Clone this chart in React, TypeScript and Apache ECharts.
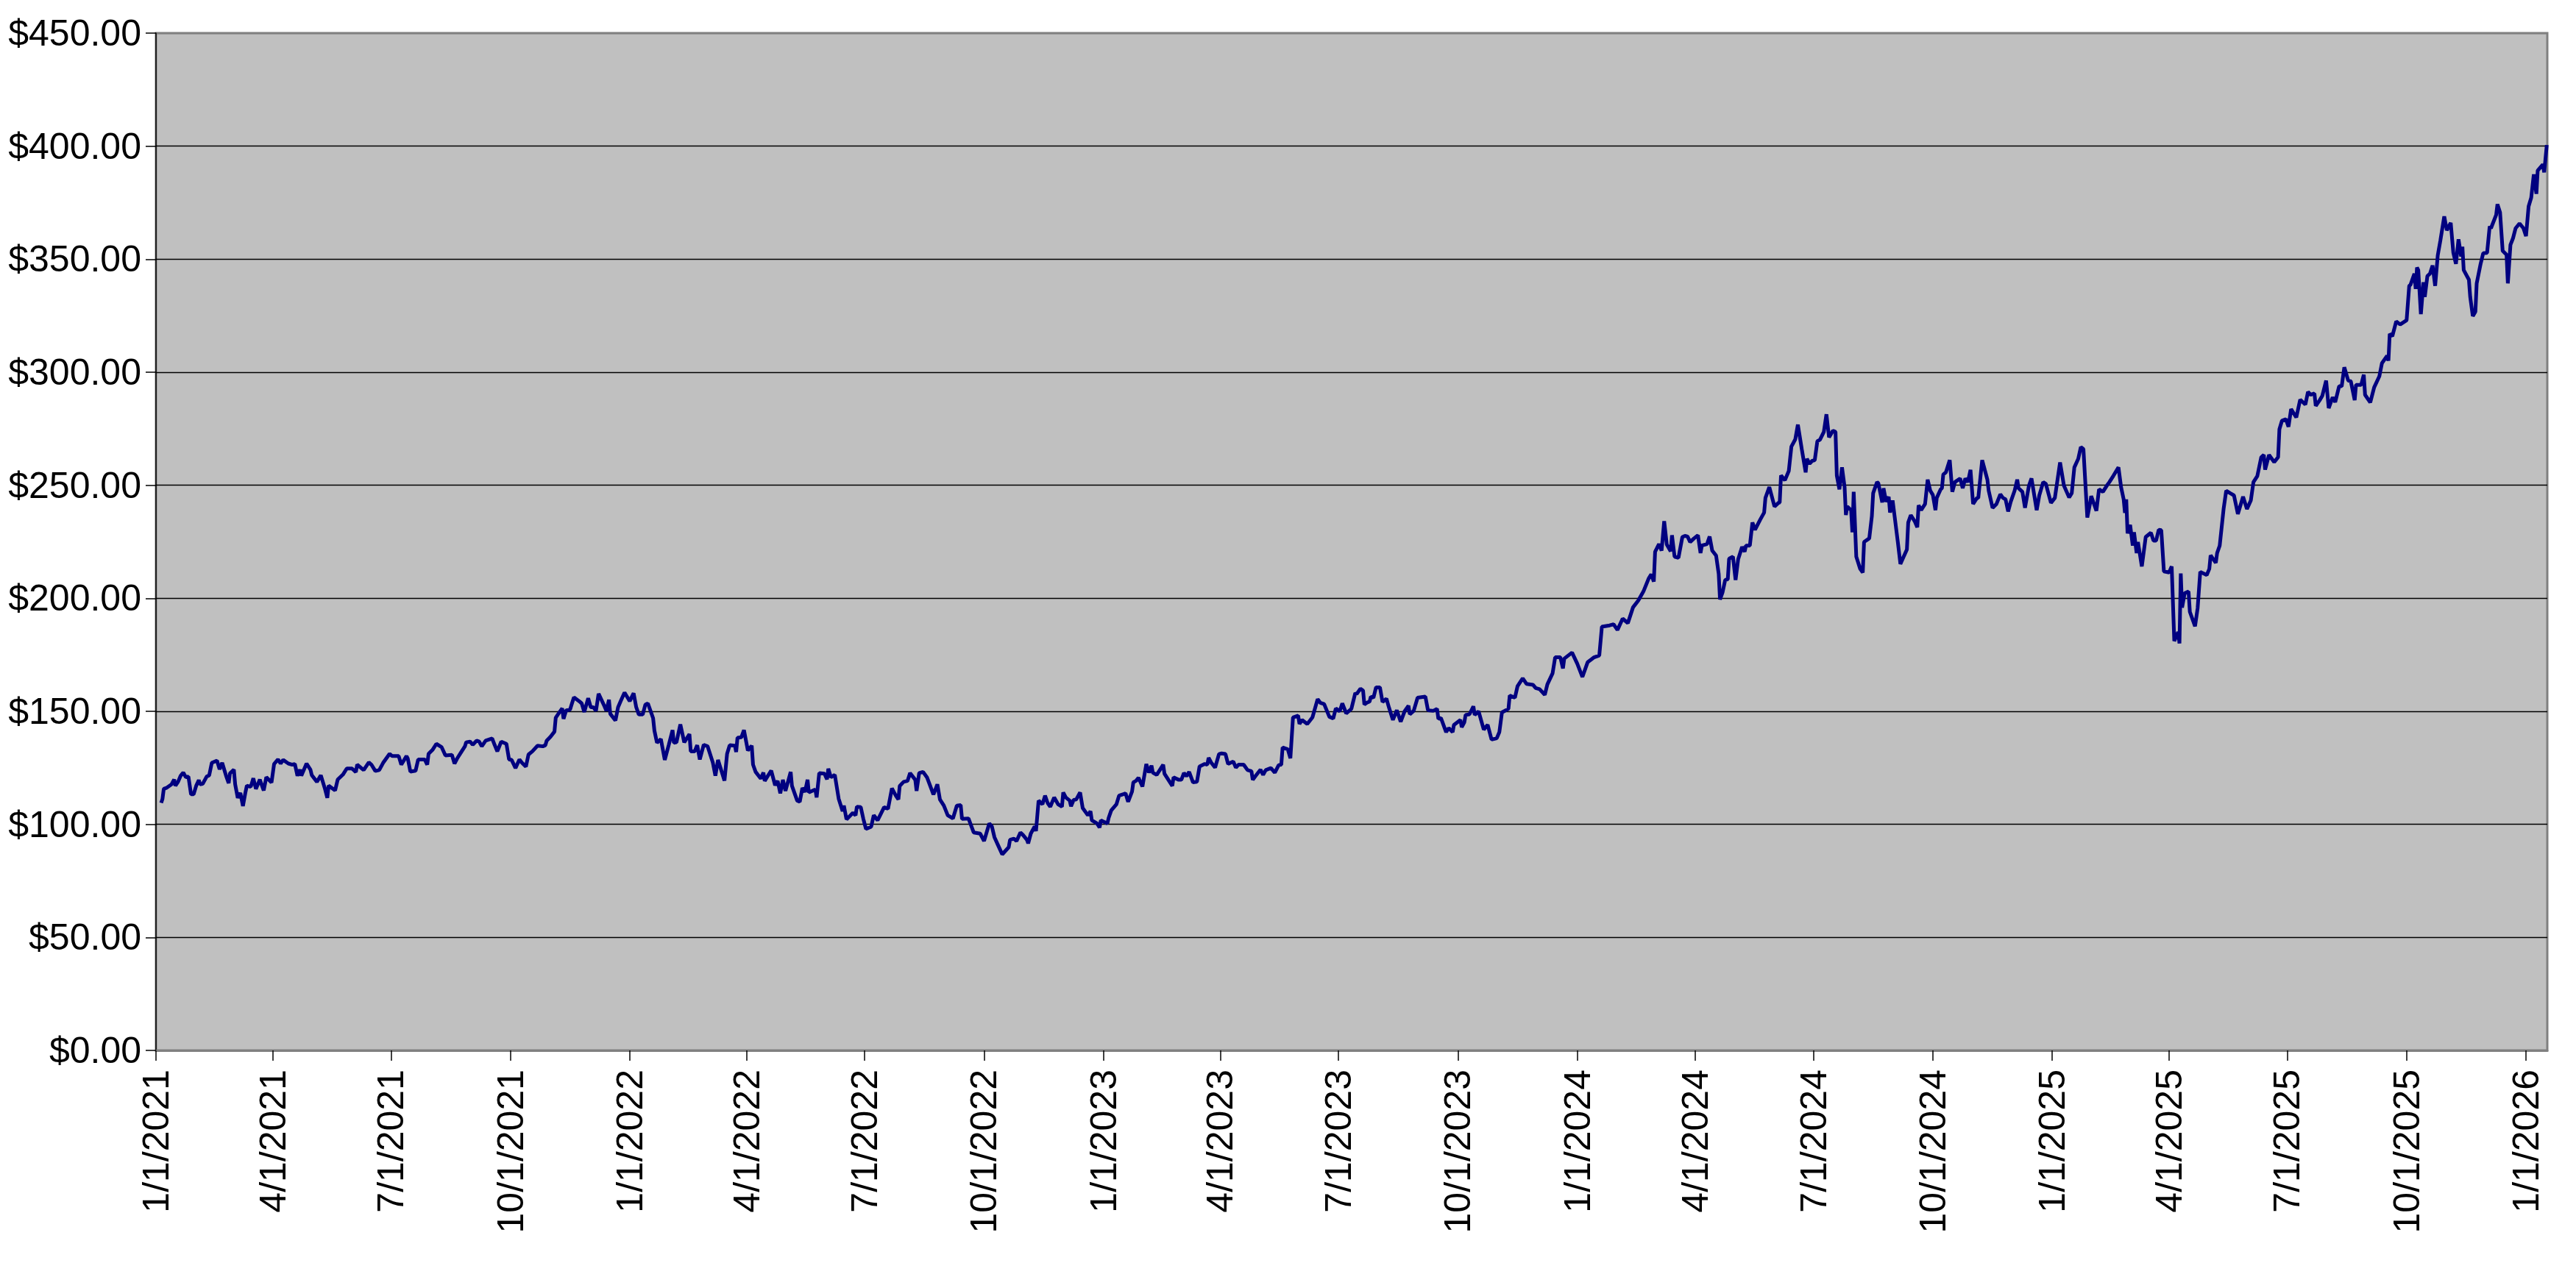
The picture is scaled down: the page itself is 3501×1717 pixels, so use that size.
import React, { useEffect, useRef } from "react";
import * as echarts from "echarts";

// Start of the date axis; every point is stored as [days since START_DATE, closing price]
const START_DATE = "2021-01-01";
const AXIS_END_DAY = 1842.4;

const tickLabels = [
  "1/1/2021", "4/1/2021", "7/1/2021", "10/1/2021",
  "1/1/2022", "4/1/2022", "7/1/2022", "10/1/2022",
  "1/1/2023", "4/1/2023", "7/1/2023", "10/1/2023",
  "1/1/2024", "4/1/2024", "7/1/2024", "10/1/2024",
  "1/1/2025", "4/1/2025", "7/1/2025", "10/1/2025",
  "1/1/2026",
];

const priceTicks = [0, 50, 100, 150, 200, 250, 300, 350, 400, 450];

const y2021: [number, number][] = [
  [4,109.5],[5,111.2],[6,115.7],[8,116.1],[12,117.7],[14,119.8],[15,117.1],[17,118.8],[19,121.5],[21,122.9],
  [23,120.9],[25,121.1],[27,113.3],[29,113.3],[31,117.1],[33,119.6],[34,117.7],[36,117.9],[39,121.1],[41,121.7],
  [43,127.2],[47,128.2],[49,124.4],[51,127.2],[54,121.5],[56,118.2],[57,122.6],[60,124.2],[61,117.7],[63,111.7],
  [65,113.9],[67,108.1],[69,114.4],[70,117.1],[73,116.6],[75,120.4],[77,115.7],[80,119.8],[83,115],[85,120.9],
  [89,118.5],[91,126.7],[94,128.7],[96,126.9],[98,128.5],[102,126.9],[105,126.4],[107,126.7],[109,121.5],[111,124.2],
  [112,121.5],[116,126.9],[119,124.2],[120,121.8],[124,118.8],[127,121.7],[130,116.1],[132,111.7],[133,117.1],[138,115],
  [140,119.8],[144,122],[147,124.7],[151,124.7],[154,123.1],[155,126.4],[160,124],[164,127.4],[166,126.4],[169,123.6],
  [172,124],[175,127.2],[180,131.2],[182,130.2],[187,130.2],[189,126.4],[193,130.2],[194,129.1],[196,123.3],[200,123.7],
  [202,128.7],[207,128.7],[209,126.4],[210,131.2],[213,132.9],[216,135.6],[220,134.2],[223,130.5],[228,130.7],[230,126.9],
  [232,129.1],[235,131.8],[238,134.5],[239,136.3],[242,136.6],[244,135.2],[247,137],[249,136.6],[251,134.5],[254,137],
  [259,138],[261,135],[263,132.3],[266,136.6],[270,135.6],[272,128.7],[274,128.5],[277,124.9],[280,128.7],[282,127.2],
  [285,125.5],[287,130.9],[290,132.3],[294,134.8],[298,134.5],[300,135],[301,137],[304,138.8],[307,141],[308,147.2],
  [311,149.7],[313,151.3],[314,146.7],[316,150.4],[319,150.7],[320,152.6],[322,156.2],[326,154.5],[328,153.5],[330,149.7],
  [333,155.8],[335,151.8],[337,151.8],[339,150.2],[341,157.8],[345,152.9],[347,150.2],[349,155.1],[350,148.9],[354,145.9],
  [356,151.8],[358,154.5],[361,158.3],
];

const y2022: [number, number][] = [
  [365,154.5],[368,158],[370,151.8],[372,148.6],[375,148.6],[377,152.9],[379,153.5],[383,147],[384,141.5],[386,136.1],
  [389,137.7],[392,128.5],[395,135],[398,141.7],[399,136.1],[401,136.3],[404,144.2],[407,136.3],[411,139.9],[412,132.3],
  [415,132.3],[417,135],[419,128.7],[422,135.2],[425,134.5],[429,127.4],[431,121.5],[433,128.5],[438,119.3],[440,131.2],
  [442,135],[446,134.8],[447,132],[448,138.3],[451,138.5],[453,141.7],
  [456,132.7],[459,134.8],[460,126.4],[462,123.2],[466,120.2],[468,122.9],[469,119.2],[474,123.8],[477,117.3],[479,119.2],
  [481,113.7],[483,119.7],[485,114.8],[489,123.2],[490,117],[494,110.5],[496,110],[498,116.1],[500,114.3],[502,119.7],
  [503,114.1],[508,115.4],[509,111.9],[511,122.7],[515,122.4],[517,119.9],[518,124.6],[520,120.8],[523,121.9],[526,111.3],
  [529,105.8],[530,108.3],[532,102.2],[537,105.1],[539,104],[540,107.8],[543,107.6],[545,102.4],[547,98],[551,98.9],
  [553,104],[556,101.8],[561,107.6],[564,106.9],[567,115.9],[570,112.7],[572,111],[573,117],[576,118.8],[579,119.2],
  [581,122.7],[585,119.7],[586,114.8],[588,122.7],[591,123.2],[594,120.8],[599,113.2],[602,117.7],[604,111],[607,108.3],
  [610,104],[614,102.6],[617,108.3],[620,108.5],[621,102.4],[626,102.6],[630,96.4],[635,95.9],[638,92.6],[642,100.4],
  [644,99.1],[646,94.3],[649,90.5],[652,86.7],[657,89.9],[658,93.2],[661,93.7],[663,92.6],[666,96.4],[668,95.3],
  [671,93.2],[672,91.6],[674,95.9],[677,99.1],[678,97],[680,110.5],[683,108.9],[685,112.7],[687,109.4],
  [689,107.8],[692,111.9],[695,108.9],[698,107.8],[699,114.1],[701,111.9],[704,110.5],[705,108],[707,110.8],[709,111],
  [712,114.1],[714,107.2],[718,104],[720,105.8],[721,101.8],[725,100.4],[727,98.6],[728,101.8],
];

const y2023: [number, number][] = [
  [733,100.4],[734,102.9],[736,106.2],[740,108.9],[742,112.7],[747,113.7],[749,110],[752,114.5],[753,118.6],[755,119.2],
  [757,120.6],[760,116.7],[763,126.7],[765,122.9],[767,126],[768,122.9],[771,121.9],[774,124.6],[776,126.4],[777,122.4],
  [783,117],[784,120.8],[788,119.7],[790,119.7],[792,122.7],[794,121.3],[796,123.2],[799,118.6],[802,118.8],[804,125.6],
  [808,126.7],[810,126.4],[811,129.4],[813,127.3],[816,125.1],[819,131.1],[821,131.4],[824,131.1],[826,126.7],[830,127.8],
  [832,125.1],[834,126.4],[838,126.4],[841,124],[844,123.5],[845,119.7],[847,121.3],[851,124.2],[853,121.9],[855,124],
  [859,124.9],[862,122.9],[865,126.2],[867,126.4],[868,134],[872,133.2],[874,129.2],[876,147.3],[880,148.1],[881,144.4],
  [883,146.2],[887,144.4],[891,147.3],[895,155.4],[897,153.8],[900,153.2],[904,147.6],[907,146.8],[909,151.3],[912,150],
  [914,153.5],[917,149.1],
  [921,151.1],[924,158.1],[925,157.6],[928,160],[930,159.2],[931,153],[933,153.8],[935,154.3],[936,156.5],[938,156],
  [940,160.6],[943,160.6],[945,154.1],[948,155.6],[950,151.6],[953,146.2],[956,150.5],[959,145.4],[962,150],[965,152.5],
  [966,148.7],[969,150.2],[972,156],[978,156.5],[980,150.5],[984,150.2],[987,151.1],[988,146.7],[990,147],[994,140.8],
  [996,142.6],[999,140.8],[1000,144],[1005,146.2],[1006,143],[1008,145.1],[1009,148.4],[1012,148.7],[1015,152.2],[1016,148.4],
  [1019,150],[1023,141.9],[1026,144],[1029,137.5],[1033,138.1],[1035,140.8],[1037,149.5],[1042,151.1],[1043,157],[1047,156],
  [1049,161.1],[1053,164.6],[1056,162.1],[1061,161.7],[1063,160.3],[1066,159.8],[1070,157.3],[1072,161.9],[1076,166.8],[1078,173.9],
  [1082,173.9],[1084,169],[1085,173.3],[1091,176],
];

const y2024: [number, number][] = [
  [1095,171.1],[1099,165.2],[1103,171.7],[1106,173],[1108,173.9],[1112,174.7],[1114,187.4],[1120,188],[1123,188.5],[1126,186],
  [1130,191],[1134,189],[1138,196],[1142,199],[1146,203],
  [1150,208.7],[1152,210.6],[1154,207.4],[1155,220.6],[1158,224],[1160,221.1],[1162,234.1],[1164,223.8],[1167,220.8],[1168,227.9],
  [1170,218.4],[1173,217.9],[1176,227.1],[1178,227.6],[1180,227.3],[1182,224.9],[1185,226.5],[1188,227.9],[1190,220],[1191,223.3],
  [1195,224],[1197,227.3],[1199,221.1],[1202,218.9],[1204,210.8],[1205,199.5],[1207,202.7],[1209,208.1],[1211,208.4],[1212,217.5],
  [1215,218.4],[1217,208.1],[1219,217.3],[1222,222.7],[1224,220.6],[1225,223.3],[1228,223.3],[1230,233.5],[1232,230.3],[1236,234.8],
  [1239,237.9],[1240,244.4],[1243,249.2],[1247,240.6],[1250,242.2],[1251,242.4],[1252,254.3],[1255,252.2],[1258,256.3],[1260,267.1],
  [1263,270.3],[1265,276.8],[1268,266],[1271,255.7],[1272,261.7],[1274,259.5],[1276,260.8],[1278,261.1],[1280,269.5],[1282,270.1],
  [1285,273.6],[1287,281.4],[1289,271.2],[1292,274.1],[1294,273.6],[1295,254.3],[1297,248.2],[1299,257.9],[1301,249.2],[1302,236.8],
  [1303,240.6],[1306,239],[1307,229.2],[1308,247.1],[1310,218.4],[1313,213],[1315,211.4],[1316,224.9],[1320,226.5],[1322,236.3],
  [1323,246.5],[1326,251.4],[1327,250.9],[1330,242.4],[1331,248.7],[1333,242.7],[1335,244.9],[1336,237.9],[1338,243.3],[1342,224.9],
  [1344,215.2],[1349,221.6],[1350,233.5],[1352,236.8],[1355,234.1],[1357,231.4],[1358,241.1],[1360,239],[1363,241.7],[1365,252.5],
  [1367,247.6],[1369,245.7],[1371,239],[1372,244.4],[1375,248.2],[1376,248.7],[1377,254.7],[1379,255.7],[1382,261.1],[1384,247.1],
  [1386,251.4],[1390,253],[1392,248.7],[1394,253],[1396,251.4],[1398,256.8],[1400,241.7],[1403,244.4],[1404,244.4],[1407,261.1],
  [1411,252.5],[1412,247.6],[1415,240],[1418,241.7],[1421,246],[1423,244.4],[1425,243.8],[1427,238.4],[1429,242.7],[1432,247.6],
  [1434,252.5],[1435,248.7],[1438,247.1],[1440,240],[1442,246.5],[1443,249.8],[1445,253],[1449,239],[1451,245.5],[1454,251.4],
  [1456,250.7],[1460,242.2],
];

const y2025: [number, number][] = [
  [1463,244.4],[1467,260.1],[1470,249.8],[1474,244.6],[1476,246.5],[1478,257.9],[1481,261.7],[1483,266.9],[1485,266],[1488,235.7],
  [1490,241.7],[1491,245.2],[1495,238.7],[1497,248.2],[1500,247.1],[1503,249.8],[1505,251.4],[1508,254.1],[1512,257.9],[1514,249.2],
  [1516,243.8],[1517,237.8],[1518,243.8],[1519,228.7],[1521,232.5],[1523,223.3],[1524,229.2],[1526,220],[1527,224.9],[1530,214.1],
  [1533,227.1],[1537,229],[1539,225.5],[1541,225.5],[1543,230.3],[1545,230.1],[1547,211.9],[1551,211.4],[1553,214.1],[1555,181.1],
  [1558,185.1],[1559,180],[1560,211],[1561,195.9],[1563,202.2],[1566,203],[1567,194],[1571,187.6],[1573,195.7],[1575,211.7],
  [1580,210.3],[1582,213],[1583,219],[1587,215.7],[1588,220],[1590,223.3],[1593,239.5],[1595,247.6],[1598,246.5],[1601,245.5],
  [1604,237.3],[1608,244.9],[1611,239.5],[1614,243.3],[1616,251.4],[1619,254.1],
  [1622,262.4],[1624,263.4],[1625,256.9],[1628,263.4],[1632,260.2],[1635,262.4],[1636,274.8],[1638,278.6],[1641,279.2],[1643,275.9],
  [1645,283.7],[1649,280],[1652,287.9],[1656,285.7],[1658,291.3],[1660,290],[1663,290.6],[1664,285.1],[1667,287.6],[1669,289.5],
  [1672,296.3],[1674,284.1],[1677,288.9],[1679,286.8],[1682,293.8],[1684,293.8],[1686,302.2],[1689,296.3],[1691,296],[1694,287.6],
  [1695,294.4],[1699,294.4],[1701,298.9],[1702,290],[1706,286.6],[1709,293.3],[1713,298.2],
  [1715,304],[1719,307.3],[1720,305.1],[1721,317],[1723,315.9],[1726,322.5],[1729,321.1],[1734,323],[1736,338.2],[1737,338.7],
  [1740,343.6],[1741,336.8],[1742,346.3],[1743,345.2],[1745,325.7],[1747,339.8],[1748,333.3],[1750,342.5],[1752,343.6],[1754,347.2],
  [1756,338.2],[1758,351.7],[1760,358.2],[1763,368.9],[1765,362.8],[1768,366.1],[1770,352.8],[1772,347.9],[1774,358.8],[1776,351.2],
  [1777,355.5],[1778,345.2],[1782,340.9],[1783,333.3],[1785,324.8],[1787,326.8],[1788,339.3],[1791,347.9],[1793,352.6],[1796,352.8],
  [1798,364.5],[1799,363.7],[1803,369.6],[1804,374.3],[1806,370.7],[1808,353.7],[1811,352],[1812,339.3],[1814,356.3],[1816,359.3],
  [1818,363.7],[1821,365.8],[1824,363.7],
];

const y2026: [number, number][] = [
  [1826,360.2],[1828,373.4],[1830,377.2],[1832,387.5],[1834,378.9],[1835,389.2],[1839,391.9],[1840,388.4],[1842,400.5],
];

const DAY_MS = 86400000;
const startMs = Date.UTC(2021, 0, 1);

function parseLabel(s: string): number {
  const [m, d, y] = s.split("/").map(Number);
  return Date.UTC(y, m - 1, d);
}

function fmtDate(v: number): string {
  const dt = new Date(v);
  return `${dt.getUTCMonth() + 1}/${dt.getUTCDate()}/${dt.getUTCFullYear()}`;
}

export default function App() {
  const ref = useRef<HTMLDivElement>(null);

  useEffect(() => {
    if (!ref.current) return;
    const chart = echarts.init(ref.current, null, { renderer: "svg" });
    const tickValues = tickLabels.map(parseLabel);
    const series = [...y2021, ...y2022, ...y2023, ...y2024, ...y2025, ...y2026].map(
      ([d, p]) => [startMs + d * DAY_MS, p]
    );
    const font = "'Liberation Sans', Arial, sans-serif";
    const gridColors = priceTicks.map((v, i) =>
      i === 0 || i === priceTicks.length - 1 ? "#808080" : "#000000"
    );

    chart.setOption({
      animation: false,
      backgroundColor: "#ffffff",
      grid: {
        left: 212,
        top: 45,
        right: 39,
        bottom: 289,
        show: true,
        backgroundColor: "#C0C0C0",
        borderColor: "#808080",
        borderWidth: 3,
      },
      xAxis: {
        type: "value",
        min: startMs,
        max: startMs + AXIS_END_DAY * DAY_MS,
        axisLine: { show: true, onZero: false, lineStyle: { color: "#808080", width: 3 } },
        axisTick: {
          show: true,
          customValues: tickValues,
          length: 14,
          lineStyle: { color: "#000000", width: 1.5 },
        },
        axisLabel: {
          customValues: tickValues,
          rotate: 90,
          margin: 26,
          color: "#000000",
          fontFamily: font,
          fontSize: 50,
          formatter: (v: number) => {
            const i = tickValues.indexOf(v);
            return i >= 0 ? tickLabels[i] : fmtDate(v);
          },
        },
        splitLine: { show: false },
      },
      yAxis: {
        type: "value",
        min: 0,
        max: 450,
        interval: 50,
        axisLine: { show: true, lineStyle: { color: "#000000", width: 1.5 } },
        axisTick: { show: true, length: 14, lineStyle: { color: "#000000", width: 1.5 } },
        axisLabel: {
          margin: 20,
          color: "#000000",
          fontFamily: font,
          fontSize: 50,
          formatter: (v: number) => "$" + v.toFixed(2),
        },
        splitLine: { show: true, lineStyle: { color: gridColors, width: 1.3 } },
      },
      series: [
        {
          type: "line",
          data: series,
          symbol: "none",
          showSymbol: false,
          lineStyle: { color: "#000080", width: 5 },
          itemStyle: { color: "#000080" },
          clip: true,
        },
      ],
    });

    return () => chart.dispose();
  }, []);

  return (
    <div
      ref={ref}
      style={{ position: "absolute", left: 0, top: 0, width: 3501, height: 1717 }}
    />
  );
}
